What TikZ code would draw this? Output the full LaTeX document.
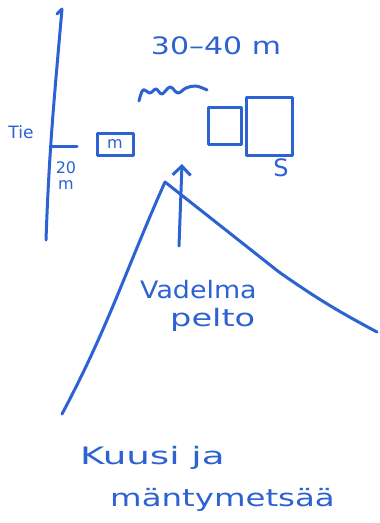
\documentclass[tikz,border=0pt]{standalone}
\usepackage{fontspec}
\setmainfont{DejaVu Sans}
\usetikzlibrary{
  arrows.meta,
  positioning
}
\definecolor{skInk}{HTML}{2D62D2}
\definecolor{skPaper}{HTML}{FFFFFF}
\newcommand{\handw}[2]{\scalebox{#1}[1]{#2}}
\tikzset{
  pen/.style={draw=skInk, line width=3pt, line cap=round, line join=round},
  hand/.style={text=skInk, font=\fontsize{24}{28}\selectfont, inner sep=0pt, align=center},
  handsmall/.style={hand, font=\fontsize{16}{19}\selectfont},
  hut/.style={pen, inner sep=0pt, minimum width=#1},
  arrow/.style={pen, -{Straight Barb[length=9pt, width=18pt, line width=3pt]}}
}

\begin{document}
\begin{tikzpicture}[x=1pt,y=-1pt]

% --------------------------------------------------------------------------
% Frame
% --------------------------------------------------------------------------
\fill[skPaper] (0,0) rectangle (380,523);
\useasboundingbox (0,0) rectangle (380,523);

% --------------------------------------------------------------------------
% Road on the left
% --------------------------------------------------------------------------
\coordinate (road_top) at (62,9);
\coordinate (road_bot) at (46,240);
\draw[pen] (57,14) -- (road_top) to[out=265,in=88] (road_bot);

\node[hand, font=\fontsize{17}{20}\selectfont] (road_lbl) at (21,132) {Tie};

\draw[pen] (52,146) -- (77,146);
\node[handsmall] (dist_road) at (66,176) {20\\[-3pt]m};

% --------------------------------------------------------------------------
% Buildings
% --------------------------------------------------------------------------
\node[hut=36pt, minimum height=22pt, handsmall] (hut_small) at (115,144) {m};
\node[hut=33pt, minimum height=37pt] (hut_mid) at (225,126) {};
\node[hut=46pt, minimum height=58pt] (hut_big) at (269,126) {};
\node[hand] (sauna) at (281,168) {S};

% --------------------------------------------------------------------------
% Distance and hedge
% --------------------------------------------------------------------------
\node[hand] (dist_top) at (216,46) {\handw{1.25}{30–40 m}};
\draw[pen] plot[smooth, tension=0.6] coordinates {
  (139,101) (143,90) (150,93) (156,89) (162,94) (170,87) (178,93)
  (186,88) (196,86) (207,90)};

% --------------------------------------------------------------------------
% Field and view arrow
% --------------------------------------------------------------------------
\coordinate (peak) at (165,182);
\coordinate (field_left) at (62,414);
\coordinate (field_bend) at (279,272);
\coordinate (field_right) at (377,332);
\draw[pen] (field_left) to[out=62,in=246] (peak) -- (field_bend)
  to[out=-35,in=152] (field_right);

\coordinate (view_from) at (179,246);
\coordinate (view_to) at (182,164);
\draw[arrow] (view_from) -- (view_to);

\node[hand, anchor=west] (field_a) at (140,290) {\handw{1.12}{Vadelma}};
\node[hand, anchor=west] (field_b) at (170,320) {\handw{1.4}{pelto}};

% --------------------------------------------------------------------------
% Forest
% --------------------------------------------------------------------------
\node[hand, anchor=west] (forest_a) at (80,458) {\handw{1.55}{Kuusi ja}};
\node[hand, anchor=west] (forest_b) at (110,500) {\handw{1.35}{mäntymetsää}};

\end{tikzpicture}
\end{document}
